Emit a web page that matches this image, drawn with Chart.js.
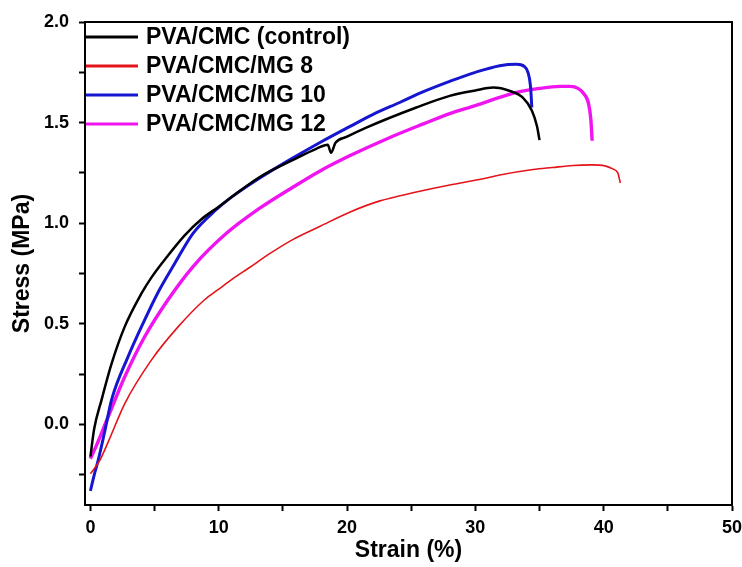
<!DOCTYPE html>
<html>
<head>
<meta charset="utf-8">
<script src="https://cdn.jsdelivr.net/npm/chart.js@4.4.0/dist/chart.umd.min.js"></script>
<style>
  html, body { margin: 0; padding: 0; background: #fff; }
  #wrap { width: 742px; height: 567px; position: relative; }
</style>
</head>
<body>
<div id="wrap"><canvas id="stressChart"></canvas></div>
<script>
// series labels
const seriesLabels = ['PVA/CMC (control)', 'PVA/CMC/MG 8', 'PVA/CMC/MG 10', 'PVA/CMC/MG 12'];
const seriesColors = ['#000000', '#e4141a', '#1616d0', '#f014f0'];
const seriesWidths = [2.5, 1.6, 3, 3.4];

// control
const controlStrain = [0, 0.3, 0.86, 1.64, 2.67, 3.97, 4.75, 6.05, 7.35, 8.65, 9.95, 11.0, 13.2, 15.8, 17.6, 18.5, 18.75, 19.1, 20.0, 21.5, 25.4, 28.0, 30.0, 31.4, 32.7, 33.7, 34.4, 34.8, 35.0];
const controlStress = [-0.16, -0.02, 0.12, 0.30, 0.485, 0.65, 0.73, 0.84, 0.94, 1.02, 1.08, 1.13, 1.23, 1.315, 1.37, 1.39, 1.35, 1.40, 1.43, 1.475, 1.575, 1.633, 1.66, 1.674, 1.657, 1.624, 1.56, 1.483, 1.413];

// MG 8
const mg8Strain = [0, 0.72, 1.5, 2.67, 4.75, 6.83, 8.9, 9.95, 11.0, 12.4, 14.0, 15.8, 17.9, 20.2, 22.5, 25.4, 28.0, 30.3, 31.9, 34.5, 36.0, 37.6, 39.0, 40.1, 40.7, 41.1, 41.3];
const mg8Stress = [-0.245, -0.18, -0.07, 0.103, 0.32, 0.485, 0.62, 0.67, 0.72, 0.78, 0.85, 0.92, 0.985, 1.055, 1.11, 1.155, 1.19, 1.217, 1.24, 1.267, 1.277, 1.287, 1.29, 1.285, 1.27, 1.25, 1.2];

// MG 10
const mg10Strain = [0, 0.3, 0.6, 1.1, 1.64, 2.93, 4.23, 5.3, 6.57, 8.0, 9.8, 11.0, 13.2, 15.8, 18.0, 20.2, 22.0, 24.1, 26.0, 28.0, 30.0, 31.9, 33.2, 33.8, 34.1, 34.3, 34.4];
const mg10Stress = [-0.33, -0.25, -0.18, -0.04, 0.12, 0.336, 0.52, 0.66, 0.80, 0.95, 1.067, 1.13, 1.225, 1.325, 1.405, 1.48, 1.54, 1.60, 1.655, 1.705, 1.75, 1.783, 1.79, 1.78, 1.75, 1.68, 1.575];

// MG 12
const mg12Strain = [0, 0.5, 1.37, 2.67, 4.23, 6.05, 8.0, 10.6, 13.2, 15.8, 17.9, 20.2, 23.3, 26.0, 28.0, 30.0, 31.9, 33.2, 35.0, 36.6, 37.4, 38.0, 38.5, 38.8, 39.0, 39.1];
const mg12Stress = [-0.17, -0.1, 0.036, 0.236, 0.436, 0.62, 0.785, 0.95, 1.075, 1.18, 1.26, 1.335, 1.425, 1.495, 1.545, 1.585, 1.625, 1.65, 1.67, 1.68, 1.68, 1.67, 1.64, 1.60, 1.516, 1.41];

// ticks
const xTicks = [0, 5, 10, 15, 20, 25, 30, 35, 40, 45, 50];
const yTicks = [-0.25, 0, 0.25, 0.5, 0.75, 1.0, 1.25, 1.5, 1.75, 2.0];

const strains = [controlStrain, mg8Strain, mg10Strain, mg12Strain];
const stresses = [controlStress, mg8Stress, mg10Stress, mg12Stress];

const FONT = '"Liberation Sans", Arial, sans-serif';

function toPoints(xs, ys) {
    return xs.map((x, i) => ({ x: x, y: ys[i] }));
}

const datasets = seriesLabels.map((label, i) => ({
    label: label,
    data: toPoints(strains[i], stresses[i]),
    borderColor: seriesColors[i],
    borderWidth: seriesWidths[i],
    pointRadius: 0,
    fill: false,
    cubicInterpolationMode: 'monotone'
}));

// 枠と凡例
const framePlugin = {
    id: 'frame',
    afterDraw(chart) {
        const ctx = chart.ctx;
        const a = chart.chartArea;
        ctx.save();
        ctx.strokeStyle = '#000';
        ctx.lineWidth = 2;
        ctx.strokeRect(a.left, a.top, a.right - a.left, a.bottom - a.top);

        // legend, upper left inside
        ctx.font = 'bold 23px ' + FONT;
        ctx.textBaseline = 'middle';
        chart.data.datasets.forEach((ds, i) => {
            const y = a.top + 15 + i * 29;
            ctx.strokeStyle = ds.borderColor;
            ctx.lineWidth = 3;
            ctx.beginPath();
            ctx.moveTo(a.left + 1, y);
            ctx.lineTo(a.left + 53, y);
            ctx.stroke();
            ctx.fillStyle = '#000';
            ctx.fillText(ds.label, a.left + 61, y + 1);
        });
        ctx.restore();
    }
};

new Chart(document.getElementById('stressChart'), {
    type: 'line',
    data: { datasets: datasets },
    plugins: [framePlugin],
    options: {
        responsive: true,
        maintainAspectRatio: false,
        animation: false,
        devicePixelRatio: 1,
        layout: { padding: { top: 22, right: 0, left: 0, bottom: 0 } },
        plugins: {
            legend: { display: false },
            tooltip: { enabled: false }
        },
        scales: {
            x: {
                type: 'linear',
                min: -0.42,
                max: 50,
                afterBuildTicks: s => { s.ticks = xTicks.map(v => ({ value: v })); },
                afterFit: s => { s.height = 62; s.paddingRight = 10; },
                ticks: {
                    autoSkip: false,
                    maxRotation: 0,
                    padding: 6,
                    color: '#000',
                    font: { family: FONT, size: 18, weight: 'bold' },
                    callback: v => (v % 10 === 0 ? String(v) : '')
                },
                grid: { drawOnChartArea: false, drawTicks: true, tickLength: 6, tickColor: '#000', tickWidth: 2 },
                border: { display: true, color: '#000', width: 2 },
                title: {
                    display: true,
                    text: 'Strain (%)',
                    color: '#000',
                    font: { family: FONT, size: 23, weight: 'bold' },
                    padding: { top: 0, bottom: 3 }
                }
            },
            y: {
                type: 'linear',
                min: -0.4,
                max: 2.0,
                afterBuildTicks: s => { s.ticks = yTicks.map(v => ({ value: v })); },
                afterFit: s => { s.width = 85; },
                ticks: {
                    autoSkip: false,
                    padding: 10,
                    color: '#000',
                    font: { family: FONT, size: 18, weight: 'bold' },
                    callback: v => (Math.abs(v * 2 - Math.round(v * 2)) < 1e-6 ? v.toFixed(1) : '')
                },
                grid: { drawOnChartArea: false, drawTicks: true, tickLength: 6, tickColor: '#000', tickWidth: 2 },
                border: { display: true, color: '#000', width: 2 },
                title: {
                    display: true,
                    text: 'Stress (MPa)',
                    color: '#000',
                    font: { family: FONT, size: 23, weight: 'bold' },
                    padding: { top: 9, bottom: 0 }
                }
            }
        }
    }
});
</script>
</body>
</html>
